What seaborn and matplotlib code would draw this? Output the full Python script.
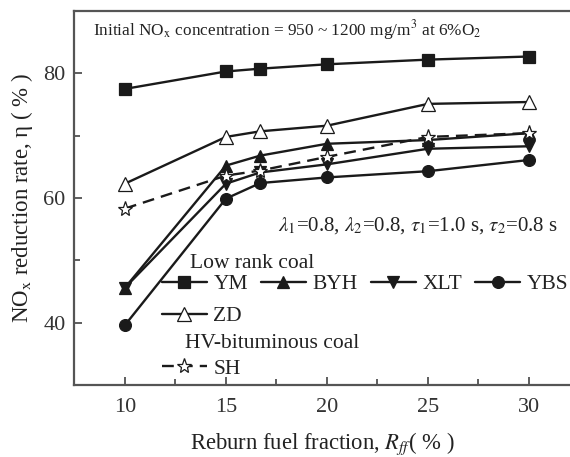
import matplotlib
matplotlib.use("Agg")
import matplotlib.pyplot as plt
import numpy as np
import pandas as pd
import seaborn as sns
from matplotlib.ticker import MultipleLocator

# ---- data ----
x_vals = [10, 15, 16.7, 20, 25, 30]
ym = [77.5, 80.3, 80.75, 81.45, 82.2, 82.7]
byh = [45.6, 65.2, 66.8, 68.7, 69.3, 70.4]
xlt = [45.6, 62.3, 64.1, 65.4, 67.9, 68.3]
ybs = [39.6, 59.9, 62.4, 63.3, 64.3, 66.1]
zd = [62.3, 69.8, 70.7, 71.6, 75.1, 75.4]
sh = [58.3, 63.6, 64.4, 66.6, 69.8, 70.4]
coal_names = ["YM", "BYH", "XLT", "YBS", "ZD", "SH"]
x_ticks = [10, 15, 20, 25, 30]
y_ticks = [40, 60, 80]

rows = []
for name, vals in zip(coal_names, [ym, byh, xlt, ybs, zd, sh]):
    for xv, yv in zip(x_vals, vals):
        rows.append({"coal": name, "Rff": xv, "eta": yv})
df = pd.DataFrame(rows)

sns.set_style("ticks")
plt.rcParams["font.family"] = ["Liberation Serif", "DejaVu Serif"]
plt.rcParams["mathtext.fontset"] = "stix"

INK = "#1a1a1a"
styles = {
    "YM": dict(marker="s", ms=8, mfc=INK, ls="-"),
    "BYH": dict(marker="^", ms=9, mfc=INK, ls="-"),
    "XLT": dict(marker="v", ms=9, mfc=INK, ls="-"),
    "YBS": dict(marker="o", ms=8.5, mfc=INK, ls="-"),
    "ZD": dict(marker="^", ms=10, mfc="white", ls="-"),
    "SH": dict(marker="*", ms=11, mfc="white", ls=(0, (5, 3))),
}

fig = plt.figure(figsize=(5.7, 4.57), dpi=100)
ax = fig.add_axes([74 / 570, 1 - 385 / 457, 1 - 74 / 570, (385 - 11) / 457])

for name in coal_names:
    st = styles[name]
    sub = df[df["coal"] == name]
    sns.lineplot(data=sub, x="Rff", y="eta", ax=ax, color=INK, lw=1.7,
                 marker=st["marker"], markersize=st["ms"],
                 markerfacecolor=st["mfc"], markeredgecolor=INK,
                 markeredgewidth=0.9, linestyle=st["ls"], label=name,
                 legend=False)

ax.set_xlim(7.48, 32.03)
ax.set_ylim(30, 90)
ax.set_xticks(x_ticks)
ax.set_yticks(y_ticks)
ax.xaxis.set_minor_locator(MultipleLocator(2.5))
ax.yaxis.set_minor_locator(MultipleLocator(10))
ax.tick_params(which="both", direction="in", colors="#333333",
               labelsize=16, width=1.1)
ax.tick_params(axis="x", pad=9)
ax.tick_params(axis="y", pad=6)
ax.tick_params(which="major", length=6)
ax.tick_params(which="minor", length=4.5)
for sp in ["left", "bottom", "top"]:
    ax.spines[sp].set_color("#555555")
    ax.spines[sp].set_linewidth(1.6)
ax.spines["right"].set_visible(False)

ax.set_xlabel("Reburn fuel fraction, $R_{ff}$( % )", fontsize=16.3,
              color="#222222", labelpad=10)
ax.set_ylabel("NO$_{\\rm x}$ reduction rate, η ( % )", fontsize=16.5,
              color="#222222", labelpad=6)

ax.text(0.038, 0.949,
        "Initial NO$_{\\rm x}$ concentration = 950 ~ 1200 mg/m$^3$ at 6%O$_2$",
        transform=ax.transAxes, fontsize=12.4, va="center", ha="left",
        color="#222222")
ax.text(0.411, 0.426,
        "$\\lambda_1$=0.8, $\\lambda_2$=0.8, $\\tau_1$=1.0 s, $\\tau_2$=0.8 s",
        transform=ax.transAxes, fontsize=15, va="center", ha="left",
        color="#222222")
ax.text(0.234, 0.325, "Low rank coal", transform=ax.transAxes,
        fontsize=15.5, va="center", ha="left", color="#222222")
ax.text(0.224, 0.111, "HV-bituminous coal", transform=ax.transAxes,
        fontsize=15.5, va="center", ha="left", color="#222222")

handles, labels = ax.get_legend_handles_labels()
hmap = dict(zip(labels, handles))
order = ["YM", "ZD", "BYH", "XLT", "YBS"]
leg1 = ax.legend([hmap[n] for n in order], order, ncol=4,
                 loc="upper left", bbox_to_anchor=(0.177, 0.296),
                 frameon=False, fontsize=15.5, handlelength=2.1,
                 handletextpad=0.3, columnspacing=0.6, labelspacing=0.55,
                 borderpad=0, borderaxespad=0, labelcolor="#222222")
ax.add_artist(leg1)
ax.legend([hmap["SH"]], ["SH"], loc="upper left",
          bbox_to_anchor=(0.177, 0.070), frameon=False, fontsize=15.5,
          handlelength=2.1, handletextpad=0.3, borderpad=0,
          borderaxespad=0, labelcolor="#222222")

fig.savefig("out.png", dpi=100)
